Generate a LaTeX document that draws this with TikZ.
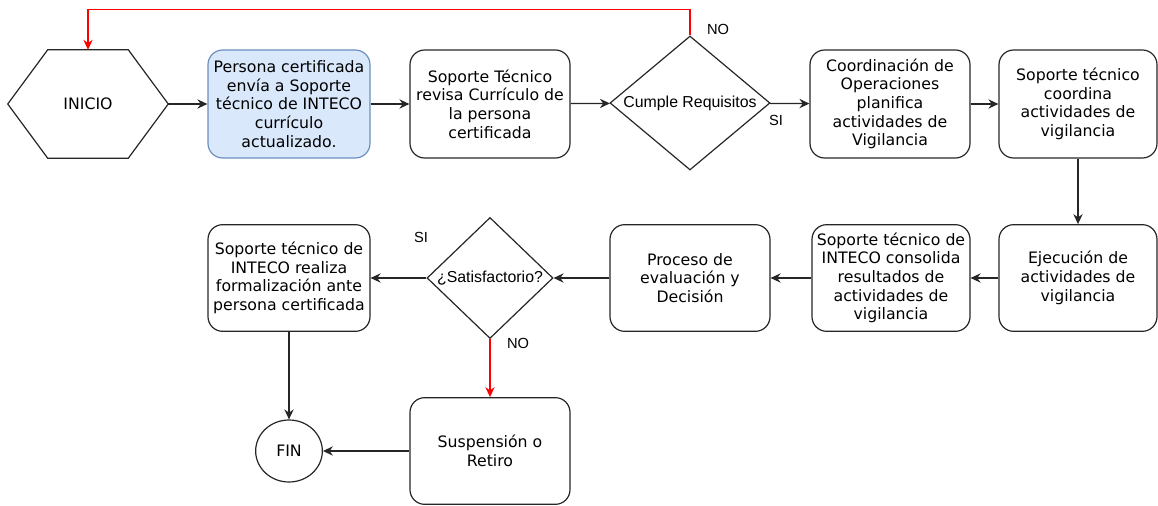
\documentclass[tikz,border=0pt]{standalone}
\usepackage{fontspec}
\setmainfont{DejaVu Sans}
\newfontfamily\arialfont{Liberation Sans}
\usetikzlibrary{arrows.meta,shapes.geometric,positioning,calc}

\definecolor{bluefill}{HTML}{DAE8FC}
\definecolor{bluedraw}{HTML}{6C8EBF}

\begin{document}
\begin{tikzpicture}[
			x=0.75pt, y=-0.75pt,
			line/.style = {draw=black!85, line width=0.9pt},
			rec/.style  = {line, rectangle, rounded corners=11pt, align=center, inner sep=2pt,
				font=\fontsize{11.8}{14}\selectfont, minimum width=120pt, minimum height=81pt},
			first/.style = {rec, fill=bluefill, draw=bluedraw},
			hexa/.style = {rectangle, align=center, inner sep=0pt, minimum width=120pt, minimum height=81pt,
				font=\fontsize{11.8}{14}\selectfont},
			decision/.style = {line, diamond, inner sep=0pt, font=\arialfont\fontsize{11.9}{14}\selectfont},
			fin/.style = {line, ellipse, inner sep=0pt, minimum width=50pt, minimum height=46.5pt,
				font=\fontsize{11.8}{14}\selectfont},
			answer/.style = {font=\arialfont\fontsize{11}{13}\selectfont, inner sep=0pt},
			no line/.style = {line, draw=red},
			>={Stealth[length=7.5pt, width=7pt, inset=2.5pt]}]
			
			\useasboundingbox (0,0) rectangle (1158,506);
			
			% first row, left to right
			\node[hexa] (inicio) at (88,104) {INICIO};
			\draw[line] (inicio.west) -- ($(inicio.north west)+(40,0)$) -- ($(inicio.north east)+(-40,0)$)
				-- (inicio.east) -- ($(inicio.south east)+(-40,0)$) -- ($(inicio.south west)+(40,0)$) -- cycle;
			\node[first, minimum width=121.5pt] (n1) at (289,104) {Persona certificada\\envía a Soporte\\técnico de INTECO\\currículo\\actualizado.};
			\node[rec] (n2) at (490,104) {Soporte Técnico\\revisa Currículo de\\la persona\\certificada};
			\node[decision, aspect=1.2, minimum width=120pt, minimum height=100.5pt] (d1) at (690,103) {Cumple Requisitos};
			\node[rec] (n3) at (890,104) {Coordinación de\\Operaciones\\planifica\\actividades de\\Vigilancia};
			\node[rec, minimum width=118.5pt] (n4) at (1078,104) {Soporte técnico\\coordina\\actividades de\\vigilancia};
			
			% second row, right to left
			\node[rec, minimum width=118.5pt, minimum height=80pt] (n5) at (1078,278) {Ejecución de\\actividades de\\vigilancia};
			\node[rec, minimum width=118.5pt, minimum height=80pt] (n6) at (891,278) {Soporte técnico de\\INTECO consolida\\resultados de\\actividades de\\vigilancia};
			\node[rec, minimum height=80pt] (n7) at (690,278) {Proceso de\\evaluación y\\Decisión};
			\node[decision, aspect=1.04, minimum width=94.5pt, minimum height=90.75pt] (d2) at (490,278) {¿Satisfactorio?};
			\node[rec, minimum width=121.5pt, minimum height=80pt] (n8) at (289,278) {Soporte técnico de\\INTECO realiza\\formalización ante\\persona certificada};
			
			% third row
			\node[fin] (fin) at (289,451) {FIN};
			\node[rec, minimum height=80pt] (n9) at (490,451) {Suspensión o\\Retiro};
			
			% answers of the decisions
			\node[answer] (no1) at (718,29) {NO};
			\node[answer] (si1) at (776,120) {SI};
			\node[answer] (si2) at (421,237) {SI};
			\node[answer] (no2) at (518,343) {NO};
			
			% connectors
			\foreach \a/\b in {inicio/n1, n1/n2, n2/d1, d1/n3, n3/n4, n4/n5, n5/n6, n6/n7, n7/d2, d2/n8, n8/fin, n9/fin}
			\draw[line, ->] (\a) -- (\b);
			
			\draw[no line, ->] (d2) -- (n9);
			\draw[no line, ->] (d1.north) -- ++(0,-26) -| (inicio.north);
		\end{tikzpicture}
\end{document}
